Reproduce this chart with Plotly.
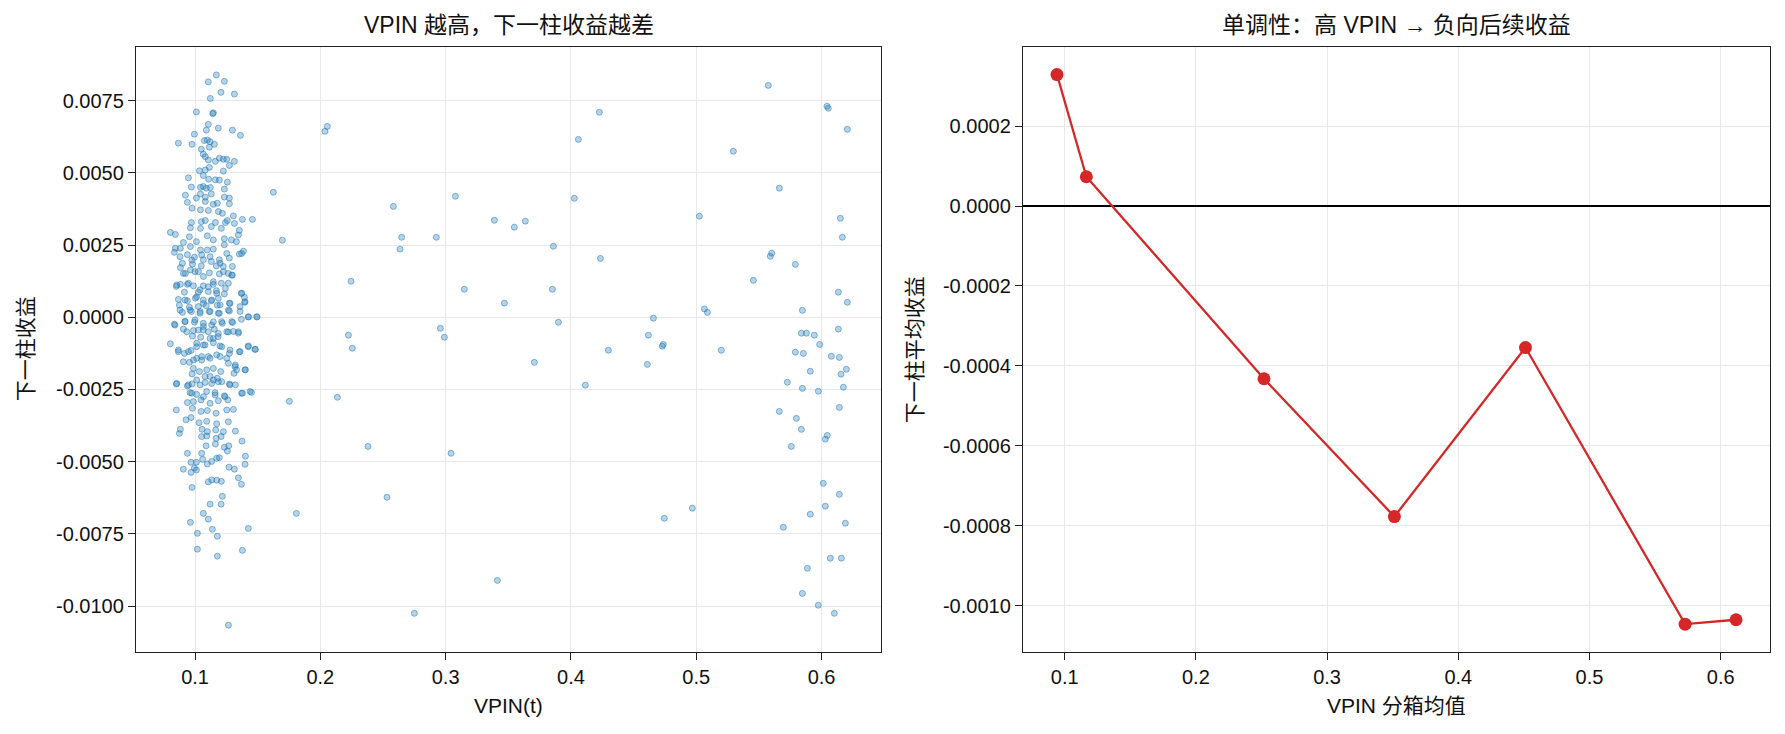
import plotly.graph_objects as go

# ---------------- data ----------------
# Left panel: VPIN(t) vs next-bar return (scatter)
cluster_upper = [
    (0.1170, 0.00839), (0.1106, 0.00815), (0.1234, 0.00817), (0.1207, 0.00779), (0.1314, 0.00773),
    (0.1122, 0.00758), (0.1011, 0.00711), (0.1141, 0.00705), (0.1146, 0.00708), (0.1106, 0.00668),
    (0.1186, 0.00655), (0.1090, 0.00648), (0.1298, 0.00648), (0.0995, 0.00634), (0.1362, 0.00630),
    (0.0867, 0.00603), (0.0976, 0.00599), (0.1074, 0.00612), (0.1098, 0.00614), (0.1120, 0.00608),
    (0.1154, 0.00599), (0.1114, 0.00589), (0.1050, 0.00582), (0.1066, 0.00565), (0.1082, 0.00556),
    (0.1106, 0.00545), (0.1194, 0.00551), (0.1226, 0.00547), (0.1253, 0.00547), (0.1314, 0.00540),
    (0.1162, 0.00540), (0.1274, 0.00526), (0.1114, 0.00519), (0.1082, 0.00510), (0.1035, 0.00507),
    (0.1226, 0.00506), (0.1066, 0.00491), (0.0947, 0.00483), (0.1109, 0.00478), (0.1162, 0.00476),
    (0.1194, 0.00475), (0.1258, 0.00468), (0.0971, 0.00451), (0.1043, 0.00450), (0.1066, 0.00453),
    (0.1090, 0.00447), (0.1122, 0.00449), (0.1043, 0.00427), (0.1130, 0.00427), (0.1234, 0.00444),
    (0.0923, 0.00423), (0.1011, 0.00413), (0.1082, 0.00416), (0.1234, 0.00416), (0.1274, 0.00413),
    (0.0939, 0.00398), (0.1082, 0.00401), (0.1146, 0.00391), (0.1178, 0.00395), (0.1274, 0.00393),
    (0.0976, 0.00378), (0.1043, 0.00372), (0.1106, 0.00370), (0.1218, 0.00360), (0.1186, 0.00366),
    (0.1306, 0.00351), (0.1378, 0.00339), (0.1458, 0.00339), (0.0971, 0.00328), (0.1050, 0.00331),
    (0.1082, 0.00335), (0.1162, 0.00328), (0.1242, 0.00328), (0.1258, 0.00335), (0.1314, 0.00325),
    (0.0963, 0.00310), (0.1043, 0.00308), (0.1130, 0.00314), (0.1210, 0.00308), (0.1354, 0.00301),
    (0.0803, 0.00294), (0.0843, 0.00287), (0.0955, 0.00279), (0.1011, 0.00262), (0.1098, 0.00282),
    (0.1146, 0.00268), (0.1234, 0.00272), (0.1290, 0.00268), (0.1330, 0.00262), (0.1346, 0.00285),
    (0.0907, 0.00259), (0.0843, 0.00239), (0.0883, 0.00239), (0.0963, 0.00245), (0.1043, 0.00233),
    (0.1098, 0.00233), (0.1146, 0.00236), (0.1234, 0.00251), (0.1386, 0.00229), (0.1354, 0.00219),
    (0.0835, 0.00225), (0.0939, 0.00217), (0.0995, 0.00208), (0.1066, 0.00199), (0.1130, 0.00193),
    (0.1194, 0.00199), (0.1274, 0.00205), (0.0899, 0.00187), (0.0979, 0.00184), (0.1050, 0.00178),
    (0.1170, 0.00178), (0.1226, 0.00176), (0.1298, 0.00176), (0.0883, 0.00172), (0.0963, 0.00164),
    (0.1027, 0.00158), (0.1114, 0.00154), (0.1194, 0.00150), (0.1266, 0.00152), (0.0923, 0.00152),
    (0.1298, 0.00146), (0.0851, 0.00107), (0.0883, 0.00114), (0.0939, 0.00114), (0.0987, 0.00109),
    (0.1066, 0.00109), (0.1146, 0.00114), (0.1210, 0.00118), (0.1242, 0.00100), (0.1027, 0.00087),
    (0.1106, 0.00089), (0.1170, 0.00092), (0.1234, 0.00081), (0.0915, 0.00087), (0.1370, 0.00083),
    (0.0867, 0.00062), (0.0939, 0.00057), (0.1003, 0.00066), (0.1066, 0.00060), (0.1130, 0.00057),
    (0.1186, 0.00066), (0.1394, 0.00069), (0.0875, 0.00042), (0.0955, 0.00035), (0.1027, 0.00037),
    (0.1090, 0.00040), (0.1178, 0.00042), (0.1274, 0.00049), (0.1396, 0.00052), (0.0899, 0.00017),
    (0.0971, 0.00020), (0.1040, 0.00014), (0.1114, 0.00020), (0.1194, 0.00014), (0.1274, 0.00022),
    (0.1359, 0.00037), (0.1425, 0.00001), (0.1495, 0.00001), (0.0835, -0.00024), (0.0920, -0.00014),
    (0.0995, -0.00017), (0.1066, -0.00021), (0.1146, -0.00016), (0.1218, -0.00021), (0.1300, -0.00018),
    (0.1370, -0.00007), (0.0907, -0.00041), (0.0987, -0.00046), (0.1066, -0.00044), (0.1154, -0.00041),
    (0.1266, -0.00051), (0.1306, -0.00049), (0.1346, -0.00055), (0.0979, -0.00065), (0.1045, -0.00069),
    (0.1120, -0.00073), (0.1184, -0.00067),
]

cluster_lower = [
    (0.0803, -0.00092), (0.0867, -0.00119), (0.0915, -0.00125), (0.0968, -0.00115), (0.1013, -0.00090),
    (0.1066, -0.00096), (0.1146, -0.00088), (0.1199, -0.00099), (0.1274, -0.00125), (0.1354, -0.00119),
    (0.1425, -0.00099), (0.1481, -0.00111), (0.0955, -0.00156), (0.1013, -0.00142), (0.1053, -0.00148),
    (0.1106, -0.00136), (0.1173, -0.00130), (0.1253, -0.00142), (0.1322, -0.00165), (0.1332, -0.00182),
    (0.1402, -0.00182), (0.0987, -0.00177), (0.1035, -0.00188), (0.1093, -0.00182), (0.1146, -0.00177),
    (0.1205, -0.00188), (0.1311, -0.00194), (0.0976, -0.00196), (0.1120, -0.00205), (0.1178, -0.00211),
    (0.0851, -0.00231), (0.0939, -0.00238), (0.0976, -0.00231), (0.1040, -0.00234), (0.1080, -0.00226),
    (0.1133, -0.00229), (0.1186, -0.00223), (0.1274, -0.00231), (0.1322, -0.00234), (0.0960, -0.00261),
    (0.1013, -0.00267), (0.1093, -0.00257), (0.1160, -0.00261), (0.1234, -0.00272), (0.1378, -0.00263),
    (0.1450, -0.00260), (0.0939, -0.00295), (0.0987, -0.00292), (0.1048, -0.00286), (0.1120, -0.00298),
    (0.1186, -0.00289), (0.1261, -0.00286), (0.0851, -0.00321), (0.0979, -0.00315), (0.1048, -0.00326),
    (0.1098, -0.00323), (0.1168, -0.00332), (0.1253, -0.00321), (0.1306, -0.00319), (0.0928, -0.00355),
    (0.0968, -0.00347), (0.1032, -0.00365), (0.1093, -0.00360), (0.1173, -0.00369), (0.1266, -0.00362),
    (0.1322, -0.00394), (0.0875, -0.00402), (0.0883, -0.00388), (0.1056, -0.00388), (0.1098, -0.00396),
    (0.1165, -0.00390), (0.1226, -0.00396), (0.1053, -0.00413), (0.1093, -0.00411), (0.1168, -0.00419),
    (0.1208, -0.00413), (0.1375, -0.00429), (0.1088, -0.00445), (0.1162, -0.00439), (0.1234, -0.00450),
    (0.1269, -0.00445), (0.0939, -0.00471), (0.1053, -0.00471), (0.1258, -0.00463), (0.1402, -0.00481),
    (0.0968, -0.00502), (0.1061, -0.00492), (0.1133, -0.00499), (0.1173, -0.00488), (0.1194, -0.00486),
    (0.1011, -0.00502), (0.1098, -0.00508), (0.1399, -0.00509), (0.0907, -0.00526), (0.0968, -0.00537),
    (0.0995, -0.00522), (0.1271, -0.00519), (0.1314, -0.00526), (0.1011, -0.00529), (0.1106, -0.00570),
    (0.1133, -0.00563), (0.1173, -0.00564), (0.1210, -0.00568), (0.1346, -0.00556), (0.1370, -0.00578),
    (0.0976, -0.00589), (0.1218, -0.00620), (0.1120, -0.00647), (0.1208, -0.00647), (0.1066, -0.00679),
    (0.1106, -0.00699), (0.0963, -0.00710), (0.1425, -0.00731), (0.1138, -0.00734), (0.1019, -0.00748),
    (0.1178, -0.00758), (0.1019, -0.00803), (0.1378, -0.00807), (0.1178, -0.00827),
]

cluster_core = [
    (0.0880, 0.00210), (0.0974, 0.00198), (0.1053, 0.00216), (0.1120, 0.00210), (0.1200, 0.00187),
    (0.1253, 0.00221), (0.1372, 0.00221), (0.0907, 0.00152), (0.1000, 0.00158), (0.1067, 0.00141),
    (0.1146, 0.00123), (0.1226, 0.00158), (0.1293, 0.00146), (0.0854, 0.00112), (0.0947, 0.00118),
    (0.1040, 0.00095), (0.1106, 0.00106), (0.1173, 0.00083), (0.1266, 0.00118), (0.0920, 0.00060),
    (0.1013, 0.00071), (0.1067, 0.00048), (0.1133, 0.00060), (0.1200, 0.00043), (0.1279, 0.00048),
    (0.1372, 0.00083), (0.1399, 0.00054), (0.0880, 0.00025), (0.0960, 0.00025), (0.1040, 0.00020),
    (0.1120, 0.00020), (0.1186, 0.00014), (0.1266, 0.00025), (0.1359, 0.00020), (0.1426, 0.00002),
    (0.1492, 0.00002), (0.0840, -0.00027), (0.0920, -0.00015), (0.1000, -0.00009), (0.1067, -0.00032),
    (0.1133, -0.00027), (0.1213, -0.00015), (0.1293, -0.00015), (0.1346, -0.00050), (0.0934, -0.00050),
    (0.1027, -0.00044), (0.1106, -0.00050), (0.1186, -0.00056), (0.1253, -0.00050), (0.0867, -0.00113),
    (0.0947, -0.00119), (0.1013, -0.00102), (0.1080, -0.00096), (0.1146, -0.00073), (0.1213, -0.00102),
    (0.1279, -0.00113), (0.1359, -0.00119), (0.1426, -0.00102), (0.1479, -0.00111), (0.0907, -0.00154),
    (0.0987, -0.00148), (0.1053, -0.00136), (0.1120, -0.00142), (0.1200, -0.00136), (0.1266, -0.00159),
    (0.1319, -0.00171), (0.1399, -0.00182), (0.0854, -0.00229), (0.0947, -0.00234), (0.1013, -0.00217),
    (0.1080, -0.00205), (0.1146, -0.00217), (0.1213, -0.00223), (0.1279, -0.00234), (0.1372, -0.00263),
    (0.1439, -0.00257), (0.0974, -0.00263), (0.1067, -0.00275), (0.1160, -0.00269), (0.1239, -0.00275),
]

spread = [
    (0.1625, 0.00433), (0.1697, 0.00267), (0.2037, 0.00644), (0.2056, 0.00661), (0.2583, 0.00384),
    (0.2245, 0.00125), (0.2224, -0.00062), (0.2255, -0.00107), (0.1753, -0.00291), (0.2136, -0.00277),
    (0.2380, -0.00447), (0.2532, -0.00623), (0.1809, -0.00679), (0.1266, -0.01066),
    (0.5575, 0.00803), (0.4227, 0.00710), (0.6043, 0.00731), (0.6054, 0.00724), (0.6206, 0.00651),
    (0.4059, 0.00616), (0.5296, 0.00575), (0.5663, 0.00447), (0.3078, 0.00419), (0.4027, 0.00412),
    (0.5025, 0.00350), (0.6150, 0.00343), (0.3389, 0.00336), (0.3636, 0.00333), (0.3548, 0.00312),
    (0.2649, 0.00277), (0.2636, 0.00236), (0.2926, 0.00277), (0.6166, 0.00277), (0.3860, 0.00246),
    (0.5602, 0.00222), (0.5591, 0.00211), (0.4235, 0.00204), (0.5791, 0.00183), (0.5456, 0.00128),
    (0.3149, 0.00097), (0.3852, 0.00097), (0.6134, 0.00087), (0.3469, 0.00049), (0.6206, 0.00052),
    (0.5065, 0.00029), (0.5089, 0.00017), (0.5847, 0.00024), (0.4658, -0.00003), (0.2958, -0.00038),
    (0.2990, -0.00069), (0.3900, -0.00017), (0.4618, -0.00062), (0.5839, -0.00055), (0.5879, -0.00055),
    (0.5942, -0.00062), (0.6134, -0.00041),
    (0.5985, -0.00094), (0.4729, -0.00100), (0.4737, -0.00094), (0.4299, -0.00114), (0.5200, -0.00114),
    (0.5791, -0.00121), (0.5855, -0.00125), (0.6078, -0.00135), (0.6142, -0.00139), (0.3708, -0.00156),
    (0.4610, -0.00163), (0.6198, -0.00180), (0.5910, -0.00187), (0.6155, -0.00197), (0.5727, -0.00225),
    (0.4115, -0.00235), (0.5847, -0.00246), (0.6174, -0.00242), (0.5974, -0.00256), (0.6142, -0.00312),
    (0.5663, -0.00326), (0.5799, -0.00350), (0.5839, -0.00388), (0.6046, -0.00409), (0.6030, -0.00422),
    (0.5759, -0.00447), (0.3043, -0.00471), (0.6014, -0.00575), (0.6142, -0.00613), (0.6030, -0.00654),
    (0.4745, -0.00696), (0.4969, -0.00661), (0.5910, -0.00682), (0.6190, -0.00713), (0.5695, -0.00727),
    (0.6070, -0.00834), (0.6158, -0.00834), (0.5887, -0.00869), (0.3413, -0.00911), (0.5847, -0.00956),
    (0.5974, -0.00997), (0.2750, -0.01025), (0.6102, -0.01025),
]

# Right panel: binned VPIN mean vs mean next-bar return
bin_vpin = [0.0941, 0.1165, 0.2519, 0.3513, 0.4512, 0.5729, 0.6117]
bin_ret = [0.000329, 0.0000733, -0.000432, -0.000777, -0.000354, -0.001046, -0.001035]

# tick labels
x_ticks = [0.1, 0.2, 0.3, 0.4, 0.5, 0.6]
x_ticktext = ["0.1", "0.2", "0.3", "0.4", "0.5", "0.6"]
y1_ticks = [-0.01, -0.0075, -0.005, -0.0025, 0.0, 0.0025, 0.005, 0.0075]
y1_ticktext = ["-0.0100", "-0.0075", "-0.0050", "-0.0025", "0.0000", "0.0025", "0.0050", "0.0075"]
y2_ticks = [-0.001, -0.0008, -0.0006, -0.0004, -0.0002, 0.0, 0.0002]
y2_ticktext = ["-0.0010", "-0.0008", "-0.0006", "-0.0004", "-0.0002", "0.0000", "0.0002"]

title_left = "VPIN 越高，下一柱收益越差"
title_right = "单调性：高 VPIN → 负向后续收益"
xlabel_left = "VPIN(t)"
ylabel_left = "下一柱收益"
xlabel_right = "VPIN 分箱均值"
ylabel_right = "下一柱平均收益"

# ---------------- figure ----------------
groups = [cluster_upper, cluster_lower, cluster_core, spread]
sx = [p[0] for g in groups for p in g]
sy = [p[1] for g in groups for p in g]

FONT = "Liberation Sans, Arial, Noto Sans CJK SC, sans-serif"
RED = "#d62728"
GRID = "#e8e8e8"
AX = "#222222"

fig = go.Figure()
fig.add_trace(go.Scatter(
    x=sx, y=sy, mode="markers", xaxis="x", yaxis="y", showlegend=False,
    marker=dict(size=6, color="rgba(31,119,180,0.32)",
                line=dict(color="rgba(31,119,180,0.50)", width=1)),
    hoverinfo="skip",
))
fig.add_trace(go.Scatter(
    x=bin_vpin, y=bin_ret, mode="lines+markers", xaxis="x2", yaxis="y2", showlegend=False,
    line=dict(color=RED, width=2.3),
    marker=dict(size=13, color=RED),
))

common = dict(
    showgrid=True, gridcolor=GRID, gridwidth=1,
    showline=True, linecolor=AX, linewidth=1.4, mirror=True,
    ticks="outside", ticklen=7, tickwidth=1.3, tickcolor=AX,
    tickfont=dict(family=FONT, size=20, color="#111"),
    zeroline=False,
)

ydom = [0.1121, 0.936]
fig.update_layout(
    width=1785, height=734,
    margin=dict(l=0, r=0, t=0, b=0),
    paper_bgcolor="white", plot_bgcolor="white",
    font=dict(family=FONT, color="#111"),
    xaxis=dict(domain=[0.0762, 0.4936], range=[0.0529, 0.6475], anchor="y",
               tickvals=x_ticks, ticktext=x_ticktext, **common),
    yaxis=dict(domain=ydom, range=[-0.01158, 0.00936], anchor="x",
               tickvals=y1_ticks, ticktext=y1_ticktext, **common),
    xaxis2=dict(domain=[0.5731, 0.9916], range=[0.0682, 0.6376], anchor="y2",
                tickvals=x_ticks, ticktext=x_ticktext, **common),
    yaxis2=dict(domain=ydom, range=[-0.001115, 0.000398], anchor="x2",
                tickvals=y2_ticks, ticktext=y2_ticktext, **common),
)
fig.layout.yaxis2.update(zeroline=True, zerolinecolor="#000000", zerolinewidth=1.5)

ann = []
lc = (0.0762 + 0.4936) / 2
rc = (0.5731 + 0.9916) / 2
ymid = (ydom[0] + ydom[1]) / 2
ann.append(dict(text=title_left, x=lc, y=1 - 25 / 734, font=dict(size=23)))
ann.append(dict(text=title_right, x=rc, y=1 - 25 / 734, font=dict(size=23)))
ann.append(dict(text=xlabel_left, x=lc, y=1 - 705 / 734, font=dict(size=21)))
ann.append(dict(text=xlabel_right, x=rc, y=1 - 705 / 734, font=dict(size=21)))
ann.append(dict(text=ylabel_left, x=25 / 1785, y=ymid, textangle=-90, font=dict(size=21)))
ann.append(dict(text=ylabel_right, x=914 / 1785, y=ymid, textangle=-90, font=dict(size=21)))
for a in ann:
    a.update(xref="paper", yref="paper", showarrow=False, xanchor="center", yanchor="middle")
    a["font"].update(family=FONT, color="#111")
fig.update_layout(annotations=ann)

fig.write_html("out.html")
